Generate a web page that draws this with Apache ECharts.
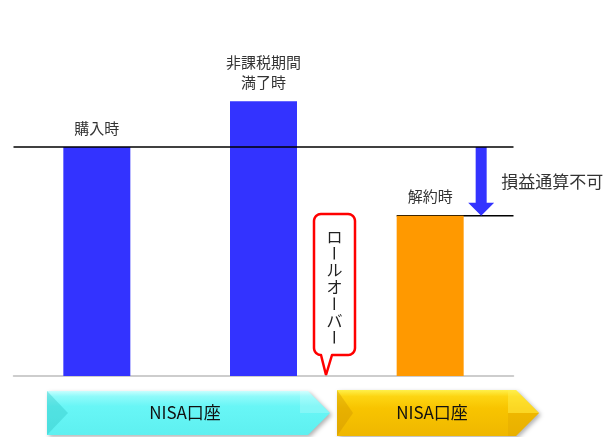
<!DOCTYPE html>
<html>
<head>
<meta charset="utf-8">
<script src="https://cdn.jsdelivr.net/npm/echarts@6/dist/echarts.min.js"></script>
<style>
html, body { margin: 0; padding: 0; background: #fff; }
#chart { width: 608px; height: 437px; }
</style>
</head>
<body>
<div id="chart"></div>
<script>
// chart data
var categories = ['購入時', '非課税期間\n満了時', '解約時'];
var values = [100, 120, 70];
var barColors = ['#3333ff', '#3333ff', '#ff9900'];
var baseLevel = 100;
var lossText = '損益通算不可';
var calloutText = 'ロールオーバー';
var accountLabels = ['NISA口座', 'NISA口座'];

var FONT = '"Noto Sans CJK JP", "Noto Sans", sans-serif';
var chart = echarts.init(document.getElementById('chart'));

var option = {
  animation: false,
  grid: { left: 13.5, right: 94.5, top: 32.5, bottom: 61 },
  xAxis: {
    type: 'category',
    data: categories,
    axisLine: { show: true, lineStyle: { color: '#bdbdbd', width: 1.5 } },
    axisTick: { show: false },
    axisLabel: { show: false },
    splitLine: { show: false }
  },
  yAxis: {
    type: 'value',
    min: 0,
    max: 150,
    show: false,
    splitLine: { show: false }
  },
  series: [{
    type: 'bar',
    barWidth: 67,
    data: values.map(function (v, i) {
      return { value: v, itemStyle: { color: barColors[i] } };
    }),
    label: {
      show: true,
      position: 'top',
      distance: 9,
      formatter: '{b}',
      fontFamily: FONT,
      fontSize: 15,
      lineHeight: 20,
      color: '#333'
    },
    markLine: {
      silent: true,
      symbol: 'none',
      label: { show: false },
      lineStyle: { color: '#000', width: 1.5, type: 'solid' },
      data: [{ yAxis: baseLevel }]
    }
  }]
};
chart.setOption(option);

// annotations placed from the axis scales
var yBase = chart.convertToPixel({ yAxisIndex: 0 }, baseLevel);
var yLast = chart.convertToPixel({ yAxisIndex: 0 }, values[2]);
var xLast = chart.convertToPixel({ xAxisIndex: 0 }, categories[2]);
var gridRight = 608 - 94.5;
var ax = xLast + 51;

var graphics = [];

// line at the sale level
graphics.push({
  type: 'line', silent: true,
  shape: { x1: xLast - 33.5, y1: yLast, x2: gridRight, y2: yLast },
  style: { stroke: '#000', lineWidth: 1.5 }
});

// down arrow
graphics.push({
  type: 'polygon', silent: true,
  shape: { points: [
    [ax - 5.5, yBase], [ax + 5.5, yBase], [ax + 5.5, yLast - 13],
    [ax + 13, yLast - 13], [ax, yLast], [ax - 13, yLast - 13], [ax - 5.5, yLast - 13]
  ] },
  style: { fill: '#3333ff' }
});
graphics.push({
  type: 'text', silent: true, x: ax + 20, y: (yBase + yLast) / 2,
  style: { text: lossText, font: '17px ' + FONT, fill: '#333', verticalAlign: 'middle' }
});

// callout: rounded box with a tail, built as one outline
var x0 = 314, x1 = 355, y0 = 214, y1 = 355, r = 7;
function arc(cx, cy, a0, a1) {
  var pts = [];
  for (var k = 0; k <= 6; k++) {
    var a = a0 + (a1 - a0) * k / 6;
    pts.push([cx + r * Math.cos(a), cy + r * Math.sin(a)]);
  }
  return pts;
}
var callPts = []
  .concat(arc(x1 - r, y0 + r, -Math.PI / 2, 0))
  .concat(arc(x1 - r, y1 - r, 0, Math.PI / 2))
  .concat([[332, y1], [326, 375], [321, y1]])
  .concat(arc(x0 + r, y1 - r, Math.PI / 2, Math.PI))
  .concat(arc(x0 + r, y0 + r, Math.PI, Math.PI * 1.5));
graphics.push({
  type: 'polygon', silent: true,
  shape: { points: callPts },
  style: { fill: '#fff', stroke: '#ff0000', lineWidth: 2.5, lineJoin: 'round' }
});
calloutText.split('').forEach(function (ch, i) {
  graphics.push({
    type: 'text', silent: true, x: 334.5, y: 236.5 + i * 16.8,
    rotation: ch === 'ー' ? -Math.PI / 2 : 0,
    style: { text: ch, font: '16px ' + FONT, fill: '#222', align: 'center', verticalAlign: 'middle' }
  });
});

// account arrows
function grad(stops) {
  return { type: 'linear', x: 0, y: 0, x2: 0, y2: 1, colorStops: stops };
}
var shadow = { shadowBlur: 4, shadowOffsetX: 2, shadowOffsetY: 2, shadowColor: 'rgba(0,0,0,0.3)' };

graphics.push({
  type: 'polygon', silent: true,
  shape: { points: [[47, 391], [308, 391], [330, 413], [308, 435], [47, 435]] },
  style: Object.assign({ fill: grad([
    { offset: 0, color: '#c8ffff' }, { offset: 0.12, color: '#8ffafa' },
    { offset: 0.35, color: '#68f6f6' }, { offset: 1, color: '#5ef0f0' }
  ]) }, shadow)
});
graphics.push({
  type: 'polygon', silent: true,
  shape: { points: [[47, 391], [68, 413], [47, 435]] },
  style: { fill: 'rgba(40,190,190,0.35)' }
});
graphics.push({
  type: 'polygon', silent: true,
  shape: { points: [[300, 391], [308, 391], [330, 413], [300, 413]] },
  style: { fill: 'rgba(255,255,255,0.2)' }
});
graphics.push({
  type: 'text', silent: true, x: 185, y: 413,
  style: { text: accountLabels[0], font: '17px ' + FONT, fill: '#111', align: 'center', verticalAlign: 'middle' }
});

graphics.push({
  type: 'polygon', silent: true,
  shape: { points: [[337, 390], [516, 390], [539, 413], [516, 436], [337, 436]] },
  style: Object.assign({ fill: grad([
    { offset: 0, color: '#fff04a' }, { offset: 0.14, color: '#fdd512' },
    { offset: 0.4, color: '#f8c400' }, { offset: 1, color: '#efb700' }
  ]) }, shadow)
});
graphics.push({
  type: 'polygon', silent: true,
  shape: { points: [[337, 390], [353, 413], [337, 436]] },
  style: { fill: 'rgba(200,140,0,0.35)' }
});
graphics.push({
  type: 'polygon', silent: true,
  shape: { points: [[508, 390], [516, 390], [539, 413], [508, 413]] },
  style: { fill: 'rgba(255,240,80,0.45)' }
});
graphics.push({
  type: 'polygon', silent: true,
  shape: { points: [[508, 413], [539, 413], [516, 436], [508, 436]] },
  style: { fill: 'rgba(220,160,0,0.3)' }
});
graphics.push({
  type: 'text', silent: true, x: 432, y: 413,
  style: { text: accountLabels[1], font: '17px ' + FONT, fill: '#111', align: 'center', verticalAlign: 'middle' }
});

chart.setOption({ graphic: { elements: graphics } });
</script>
</body>
</html>
